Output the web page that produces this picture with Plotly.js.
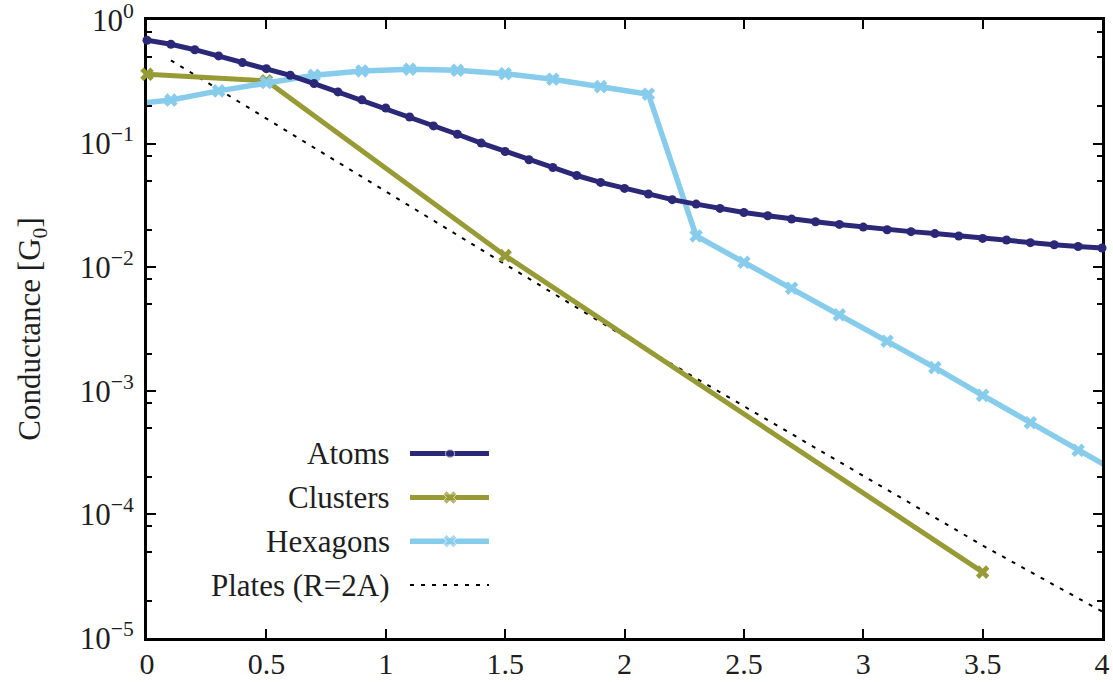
<!DOCTYPE html>
<html>
<head>
<meta charset="utf-8">
<script src="https://cdn.plot.ly/plotly-3.0.1.min.js"></script>
<style>
  html, body { margin: 0; padding: 0; background: #fff; }
  #chart { width: 1113px; height: 682px; }
</style>
</head>
<body>
<div id="chart"></div>
<script>
// ---------------- data ----------------
const atomsX = [0.0,0.1,0.2,0.3,0.4,0.5,0.6,0.7,0.8,0.9,1.0,1.1,1.2,1.3,1.4,1.5,1.6,1.7,1.8,1.9,2.0,
                2.1,2.2,2.3,2.4,2.5,2.6,2.7,2.8,2.9,3.0,3.1,3.2,3.3,3.4,3.5,3.6,3.7,3.8,3.9,4.0];
const atomsY = [0.686,0.636,0.575,0.512,0.452,0.404,0.357,0.306,0.262,0.226,0.194,0.164,0.139,0.119,0.101,
                0.0863,0.0740,0.0641,0.0552,0.0485,0.0434,0.0391,0.0352,0.0324,0.0299,0.0277,0.0261,0.0245,
                0.0233,0.0222,0.0211,0.0201,0.0194,0.0187,0.0179,0.0171,0.0166,0.0158,0.0152,0.0147,0.0143];

const clustersX = [0.0, 0.5, 1.5, 3.5];
const clustersY = [0.364, 0.322, 0.0124, 3.41e-5];

const hexagonsX = [-0.1,0.1,0.3,0.5,0.7,0.9,1.1,1.3,1.5,1.7,1.9,2.1,2.3,2.5,2.7,2.9,3.1,3.3,3.5,3.7,3.9,4.1];
const hexagonsY = [0.206,0.225,0.267,0.312,0.357,0.387,0.400,0.392,0.368,0.332,0.289,0.251,
                   0.0179,0.01096,0.00676,0.00412,0.00252,0.00154,0.000918,0.000552,0.000330,0.000201];

const platesX = [0.1, 0.5, 1.0, 1.5, 2.0, 2.5, 3.0, 3.5, 4.0];
const platesY = [0.472, 0.159, 0.0410, 0.01057, 0.00275, 7.50e-4, 2.06e-4, 5.61e-5, 1.64e-5];

const seriesNames = ["Atoms", "Clusters", "Hexagons", "Plates (R=2A)"];
const xTickVals = [0, 0.5, 1, 1.5, 2, 2.5, 3, 3.5, 4];
const xTickText = ["0", "0.5", "1", "1.5", "2", "2.5", "3", "3.5", "4"];
const yTickVals = [1, 0.1, 0.01, 0.001, 0.0001, 0.00001];
const yTickText = ["10<sup>0</sup>", "10<sup>−1</sup>", "10<sup>−2</sup>", "10<sup>−3</sup>", "10<sup>−4</sup>", "10<sup>−5</sup>"];
const yTitle = "Conductance [G<sub>0</sub>]";

// ---------------- style ----------------
const FONT = "Liberation Serif, Times New Roman, serif";
const TXT = "#1e1e1e";
const C_ATOMS = "#2b2878";
const C_CLUST = "#979a35";
const C_HEX = "#88ccec";

// minor ticks at 0.8, 0.5, 0.2 of each decade
const minorVals = [];
for (let k = 0; k >= -5; k--) {
  [0.8, 0.5, 0.2].forEach(m => { const v = m * Math.pow(10, k); if (v >= 1e-5) minorVals.push(v); });
}

const traces = [
  { x: platesX, y: platesY, mode: "lines", name: seriesNames[3],
    line: { color: "#000", width: 2, dash: "4px,7px" }, cliponaxis: true, showlegend: false },
  { x: clustersX, y: clustersY, mode: "lines+markers", name: seriesNames[1],
    line: { color: C_CLUST, width: 5 }, marker: { symbol: "x", size: 12, color: C_CLUST },
    cliponaxis: false, showlegend: false },
  { x: hexagonsX, y: hexagonsY, mode: "lines+markers", name: seriesNames[2],
    line: { color: C_HEX, width: 5.5 }, marker: { symbol: "x", size: 12, color: C_HEX },
    cliponaxis: true, showlegend: false },
  { x: atomsX, y: atomsY, mode: "lines+markers", name: seriesNames[0],
    line: { color: C_ATOMS, width: 5 }, marker: { symbol: "circle", size: 9, color: C_ATOMS },
    cliponaxis: false, showlegend: false }
];

// ---------------- custom legend (text left of sample, right aligned) ----------------
const legX0 = 0.2754, legXm = 0.3173, legX1 = 0.3581, legTextX = 0.2565;
const legRows = [0.2984, 0.2273, 0.1567, 0.0856];
const legStyles = [
  { line: { color: C_ATOMS, width: 5 }, marker: { symbol: "circle", size: [0, 9, 0], color: C_ATOMS } },
  { line: { color: C_CLUST, width: 5 }, marker: { symbol: "x", size: [0, 12, 0], color: C_CLUST } },
  { line: { color: C_HEX, width: 5.5 }, marker: { symbol: "x", size: [0, 12, 0], color: C_HEX } },
  { line: { color: "#000", width: 2, dash: "4px,7px" }, marker: { size: [0, 0, 0] } }
];
const annotations = [];
legRows.forEach((yy, i) => {
  traces.push(Object.assign({
    x: [legX0, legXm, legX1], y: [yy, yy, yy], xaxis: "x2", yaxis: "y2",
    mode: i === 3 ? "lines" : "lines+markers", showlegend: false, hoverinfo: "skip", cliponaxis: false
  }, legStyles[i]));
  annotations.push({
    xref: "paper", yref: "paper", x: legTextX, y: yy, xanchor: "right", yanchor: "middle",
    text: seriesNames[i], showarrow: false, font: { family: FONT, size: 31, color: TXT }
  });
});

const layout = {
  width: 1113, height: 682,
  margin: { l: 147, r: 11, t: 20, b: 44, pad: 0 },
  paper_bgcolor: "#fff", plot_bgcolor: "#fff",
  font: { family: FONT, size: 30, color: TXT },
  showlegend: false,
  annotations: annotations,
  xaxis: {
    range: [0, 4], tickmode: "array", tickvals: xTickVals, ticktext: xTickText,
    ticks: "inside", ticklen: 9, tickwidth: 2, tickcolor: "#000",
    showline: true, linewidth: 3, linecolor: "#000", mirror: "ticks",
    showgrid: false, zeroline: false, layer: "below traces",
    tickfont: { family: FONT, size: 30, color: TXT }, ticklabelstandoff: -3,
    ticklabeloverflow: "allow"
  },
  yaxis: {
    type: "log", range: [-5, 0], tickmode: "array", tickvals: yTickVals, ticktext: yTickText,
    ticks: "inside", ticklen: 9, tickwidth: 2, tickcolor: "#000",
    minor: { tickmode: "array", tickvals: minorVals, ticks: "inside", ticklen: 5, tickwidth: 2, tickcolor: "#000", showgrid: false },
    showline: true, linewidth: 3, linecolor: "#000", mirror: "ticks",
    showgrid: false, zeroline: false, layer: "below traces",
    tickfont: { family: FONT, size: 31, color: TXT }, ticklabelstandoff: 4,
    ticklabeloverflow: "allow",
    title: { text: yTitle, font: { family: FONT, size: 31, color: TXT }, standoff: 30 }
  },
  xaxis2: { overlaying: "x", range: [0, 1], visible: false, fixedrange: true },
  yaxis2: { overlaying: "y", range: [0, 1], visible: false, fixedrange: true }
};

Plotly.newPlot("chart", traces, layout, { staticPlot: true, displayModeBar: false });
</script>
</body>
</html>
